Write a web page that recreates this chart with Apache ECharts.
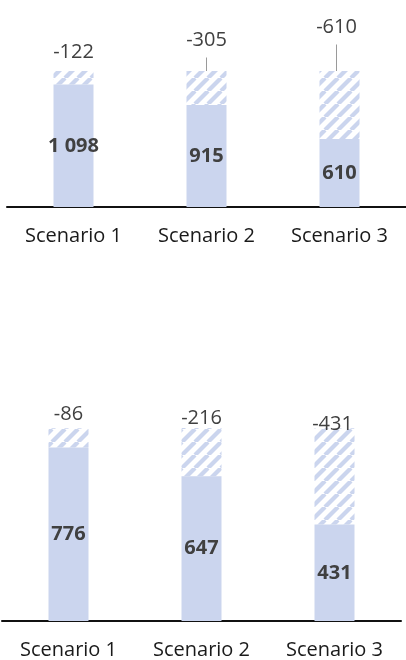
<!DOCTYPE html>
<html>
<head>
<meta charset="utf-8">
<script src="https://cdn.jsdelivr.net/npm/echarts@6/dist/echarts.min.js"></script>
<style>
  html, body { margin: 0; padding: 0; background: #fff; }
  #chart { width: 406px; height: 660px; }
</style>
</head>
<body>
<div id="chart"></div>
<script>
// data
const categories = ['Scenario 1', 'Scenario 2', 'Scenario 3']
const topRemaining = [1098, 915, 610]
const topReduction = [122, 305, 610]
const bottomRemaining = [776, 647, 431]
const bottomReduction = [86, 216, 431]

// label nudges for the reduction labels (dx, dy) and which ones get a leader line
const topShift = [[0, -1.5], [0, -13.5], [-3, -26.5]]
const topLeader = [false, true, true]
const bottomShift = [[0, 3.5], [0, 7.5], [-2, 13]]

const barColor = '#cbd5ee'
const textColor = '#404040'
const fontFamily = '"Open Sans", Lato, sans-serif'

// diagonal hatch
const makeHatch = () => {
  const s = 13
  const c = document.createElement('canvas')
  c.width = s
  c.height = s
  const ctx = c.getContext('2d')
  ctx.strokeStyle = barColor
  ctx.lineWidth = 4.2
  for (const o of [-s, 0, s]) {
    ctx.beginPath()
    ctx.moveTo(o, s)
    ctx.lineTo(o + s, 0)
    ctx.stroke()
  }
  return c
}
const hatch = { image: makeHatch(), repeat: 'repeat' }

const fmt = (n) => String(n).replace(/\B(?=(\d{3})+(?!\d))/g, ' ')

const chart = echarts.init(document.getElementById('chart'))

const xAxisBase = (gridIndex) => ({
  type: 'category',
  gridIndex,
  data: categories,
  axisTick: { show: false },
  axisLine: { lineStyle: { color: '#111', width: 2 } },
  axisLabel: {
    color: '#1a1a1a',
    fontSize: 20,
    fontFamily,
    lineHeight: 20,
    margin: 19,
  },
})

const yAxisBase = (gridIndex) => ({
  type: 'value',
  gridIndex,
  min: 0,
  max: 'dataMax',
  show: false,
})

const solidSeries = (idx, values, stack) => ({
  type: 'bar',
  xAxisIndex: idx,
  yAxisIndex: idx,
  stack,
  barWidth: 40,
  data: values,
  itemStyle: { color: barColor },
  label: {
    show: true,
    position: 'inside',
    color: textColor,
    fontWeight: 'bold',
    fontSize: 20,
    fontFamily,
    formatter: (p) => fmt(p.value),
  },
  silent: true,
})

const hatchSeries = (idx, values, stack, shift, leader) => ({
  type: 'bar',
  xAxisIndex: idx,
  yAxisIndex: idx,
  stack,
  barWidth: 40,
  data: values.map((v, i) => ({
    value: v,
    labelLine: { show: leader ? leader[i] : false },
  })),
  itemStyle: { color: hatch },
  label: {
    show: true,
    position: 'top',
    distance: 0,
    color: textColor,
    fontSize: 20,
    fontFamily,
    lineHeight: 20,
    padding: [0, 0, 7, 0],
    formatter: (p) => '-' + fmt(p.value),
  },
  labelLine: { show: false, lineStyle: { color: '#9a9a9a', width: 1 } },
  labelLayout: (p) => ({ dx: shift[p.dataIndex][0], dy: shift[p.dataIndex][1] }),
  silent: true,
})

chart.setOption({
  backgroundColor: '#fff',
  animation: false,
  grid: [
    { left: 7, right: -3, top: 71, height: 136 },
    { left: 2, right: 5, top: 428, height: 196.5 },
  ],
  xAxis: [xAxisBase(0), xAxisBase(1)],
  yAxis: [yAxisBase(0), yAxisBase(1)],
  series: [
    solidSeries(0, topRemaining, 'top'),
    hatchSeries(0, topReduction, 'top', topShift, topLeader),
    solidSeries(1, bottomRemaining, 'bottom'),
    hatchSeries(1, bottomReduction, 'bottom', bottomShift, null),
  ],
})
</script>
</body>
</html>
